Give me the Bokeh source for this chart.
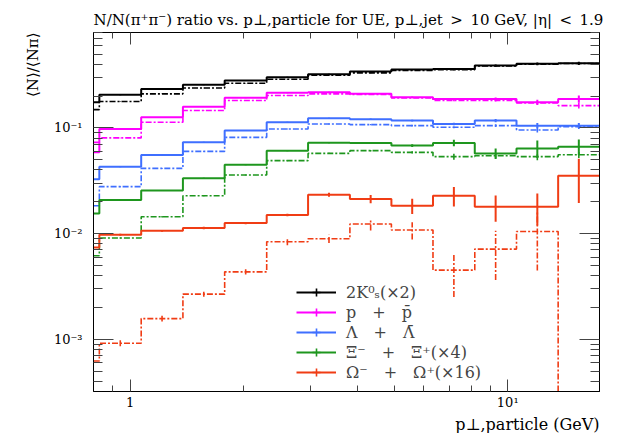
import math
from bokeh.plotting import figure
from bokeh.models import (LogAxis, FixedTicker, Legend, LegendItem, Title,
                          ColumnDataSource)
from bokeh.embed import file_html
from bokeh.resources import INLINE

# ---------------- data ----------------
edges = [0.643, 0.829, 1.07, 1.38, 1.78, 2.30, 2.96, 3.82, 4.92, 6.34, 8.18, 10.55, 13.6, 17.5]

k0_data = [0.175, 0.2055, 0.234, 0.256, 0.281, 0.302, 0.322, 0.342, 0.357, 0.362, 0.390, 0.404, 0.409]
k0_data_err = [0.0, 0.002, 0.002, 0.002, 0.002, 0.003, 0.003, 0.003, 0.004, 0.005, 0.008, 0.012, 0.015]
k0_mc = [0.149, 0.178, 0.210, 0.239, 0.265, 0.289, 0.315, 0.332, 0.350, 0.355, 0.386, 0.400, 0.407]
k0_mc_err = [0.0, 0.001, 0.001, 0.001, 0.001, 0.002, 0.002, 0.002, 0.002, 0.003, 0.004, 0.005, 0.006]

p_data = [0.0587, 0.0978, 0.126, 0.159, 0.1925, 0.215, 0.218, 0.210, 0.195, 0.188, 0.188, 0.175, 0.188]
p_data_err = [0.0, 0.001, 0.001, 0.001, 0.0015, 0.002, 0.002, 0.002, 0.003, 0.004, 0.006, 0.010, 0.015]
p_mc = [0.0730, 0.0804, 0.113, 0.146, 0.1815, 0.2024, 0.210, 0.2068, 0.1925, 0.1815, 0.1815, 0.1726, 0.1627]
p_mc_err = [0.0, 0.0005, 0.0008, 0.001, 0.001, 0.0015, 0.002, 0.002, 0.002, 0.003, 0.004, 0.006, 0.010]

lam_data = [0.0326, 0.0430, 0.0555, 0.0730, 0.0943, 0.113, 0.1233, 0.1207, 0.1173, 0.109, 0.1173, 0.1051, 0.1051]
lam_data_err = [0.0, 0.0005, 0.0006, 0.0008, 0.001, 0.0012, 0.0015, 0.002, 0.002, 0.003, 0.004, 0.006, 0.006]
lam_mc = [0.01834, 0.0278, 0.0414, 0.060, 0.0814, 0.0978, 0.109, 0.1075, 0.1051, 0.1013, 0.1051, 0.0957, 0.1029]
lam_mc_err = [0.0, 0.0003, 0.0004, 0.0005, 0.0007, 0.001, 0.0012, 0.0015, 0.002, 0.002, 0.003, 0.005, 0.005]

xi_data = [0.0155, 0.0208, 0.0256, 0.0333, 0.0449, 0.0609, 0.0725, 0.0721, 0.0680, 0.0721, 0.0574, 0.0640, 0.0665]
xi_data_err = [0.0, 0.0003, 0.0003, 0.0004, 0.0005, 0.0008, 0.001, 0.0015, 0.002, 0.005, 0.0066, 0.012, 0.011]
xi_mc = [0.00616, 0.00907, 0.01443, 0.0228, 0.0358, 0.049, 0.0574, 0.0609, 0.0587, 0.0535, 0.0546, 0.0535, 0.0558]
xi_mc_err = [0.0, 0.0001, 0.0002, 0.0003, 0.0004, 0.0006, 0.0008, 0.001, 0.0015, 0.0035, 0.003, 0.004, 0.004]

om_data = [0.00738, 0.00974, 0.01063, 0.01127, 0.01258, 0.01498, 0.0233, 0.02123, 0.01834, 0.0228, 0.01795, 0.01795, 0.0353]
om_data_err = [0.0, 0.0002, 0.0002, 0.0003, 0.0003, 0.0004, 0.001, 0.0019, 0.003, 0.0048, 0.005, 0.006, 0.0158]
om_mc = [0.000623, 0.000916, 0.001568, 0.00267, 0.00434, 0.00836, 0.00893, 0.0123, 0.0108, 0.00451, 0.00713, 0.01047, 0.0]
om_mc_err = [0.0, 0.00006, 0.0001, 0.00015, 0.00025, 0.0006, 0.0008, 0.0016, 0.002, 0.002, 0.0035, 0.006, 0.0]

labels = ["2K⁰ₛ(×2)", "p\u2003+\u2003p̄", "Λ\u2003+\u2003Λ̄",
          "Ξ⁻\u2003+\u2003Ξ⁺(×4)", "Ω⁻\u2003+\u2003Ω⁺(×16)"]
colors = ["#000000", "#ff00ff", "#3f6fff", "#1e961e", "#f03c14"]

title_text = "N/N(π⁺π⁻) ratio vs. p⊥,particle for UE, p⊥,jet\u2002>\u200210 GeV, |η|\u2002<\u20021.9"
x_title = "p⊥,particle (GeV)"
y_title = "⟨N⟩/⟨Nπ⟩"

x_major = [1, 10]
x_minor = [0.8, 0.9, 2, 3, 4, 5, 6, 7, 8, 9, 20]
y_major = [0.001, 0.01, 0.1]
y_minor = [3e-4, 4e-4, 5e-4, 6e-4, 7e-4, 8e-4, 9e-4,
           2e-3, 3e-3, 4e-3, 5e-3, 6e-3, 7e-3, 8e-3, 9e-3,
           2e-2, 3e-2, 4e-2, 5e-2, 6e-2, 7e-2, 8e-2, 9e-2,
           0.2, 0.3, 0.4, 0.5, 0.6, 0.7, 0.8, 0.9]

series = [
    (k0_data, k0_data_err, k0_mc, k0_mc_err),
    (p_data, p_data_err, p_mc, p_mc_err),
    (lam_data, lam_data_err, lam_mc, lam_mc_err),
    (xi_data, xi_data_err, xi_mc, xi_mc_err),
    (om_data, om_data_err, om_mc, om_mc_err),
]

XMIN, XMAX = 0.8, 17.5
YMIN, YMAX = 3.2e-4, 0.8
FONT = "DejaVu Serif"

p = figure(x_axis_type="log", y_axis_type="log",
           x_range=(XMIN, XMAX), y_range=(YMIN, YMAX),
           frame_width=506, frame_height=359, title=None,
           min_border_left=93, min_border_right=10,
           min_border_top=32, min_border_bottom=40,
           output_backend="svg", toolbar_location=None)
p.xgrid.visible = False
p.ygrid.visible = False
p.outline_line_color = "black"
p.outline_line_width = 1
p.background_fill_color = "white"
p.border_fill_color = "white"

def style_axis(ax, major_in, minor_in, labels_on, overrides=None, standoff=5):
    ax.major_tick_in = major_in
    ax.major_tick_out = 0
    ax.minor_tick_in = minor_in
    ax.minor_tick_out = 0
    ax.axis_line_color = "black"
    ax.major_tick_line_color = "#444444"
    ax.minor_tick_line_color = "#444444"
    ax.major_label_text_font = FONT
    ax.major_label_text_font_size = "13px" if labels_on else "0px"
    ax.major_label_standoff = standoff if labels_on else 0
    ax.major_label_text_color = "black"
    if overrides is not None:
        ax.major_label_overrides = overrides

p.xaxis.ticker = FixedTicker(ticks=x_major, minor_ticks=x_minor)
p.yaxis.ticker = FixedTicker(ticks=y_major, minor_ticks=y_minor)
style_axis(p.xaxis[0], 12, 6, True, {1: "1", 10: "10¹"}, 3)
style_axis(p.yaxis[0], 20, 9, True, {0.001: "10⁻³", 0.01: "10⁻²", 0.1: "10⁻¹"}, 11)

top = LogAxis(ticker=FixedTicker(ticks=x_major, minor_ticks=x_minor))
style_axis(top, 12, 6, False, {1: "", 10: ""})
p.add_layout(top, "above")
right = LogAxis(ticker=FixedTicker(ticks=y_major, minor_ticks=y_minor))
style_axis(right, 20, 9, False, {0.001: "", 0.01: "", 0.1: ""})
p.add_layout(right, "right")

centers = [math.sqrt(edges[i] * edges[i + 1]) for i in range(len(edges) - 1)]
DASH = "6 2 2 2"
floor = YMIN / 10.0

legend_items = []
for (d, de, m, me), col, lab in zip(series, colors, labels):
    mv = [v if v > 0 else floor for v in m]
    p.step(x=edges, y=mv + [mv[-1]], mode="after", line_color=col,
           line_width=1.6, line_dash=DASH)
    mi = [i for i in range(len(m)) if me[i] > 0 and m[i] > 0]
    p.segment(x0=[centers[i] for i in mi], y0=[m[i] - me[i] for i in mi],
              x1=[centers[i] for i in mi], y1=[m[i] + me[i] for i in mi],
              line_color=col, line_width=1.6, line_dash=DASH)
    r = p.step(x=edges, y=d + [d[-1]], mode="after", line_color=col, line_width=2)
    di = [i for i in range(len(d)) if de[i] > 0]
    p.segment(x0=[centers[i] for i in di], y0=[d[i] - de[i] for i in di],
              x1=[centers[i] for i in di], y1=[d[i] + de[i] for i in di],
              line_color=col, line_width=2)
    # error-bar cross of the first (partial, off-range) bin; serves as legend swatch
    src = ColumnDataSource(dict(x=[centers[0]], y=[d[0]]))
    cr = p.scatter(x="x", y="y", source=src, marker="cross", size=12,
                   line_color=col, line_width=1.6)
    legend_items.append(LegendItem(label=lab, renderers=[r, cr]))

legend = Legend(items=legend_items, location=(203, 9), glyph_width=40, glyph_height=20,
                spacing=0, padding=0, margin=0, label_standoff=10,
                border_line_alpha=0, background_fill_alpha=0,
                label_text_font=FONT, label_text_font_size="16px",
                label_height=20)
p.add_layout(legend)

p.add_layout(Title(text=title_text, align="left", text_font=FONT, text_font_size="15px",
                   text_font_style="normal", text_color="black", standoff=7), "above")
p.add_layout(Title(text=x_title, align="right", text_font=FONT, text_font_size="16px",
                   text_font_style="normal", text_color="black", standoff=0), "below")
p.add_layout(Title(text=y_title, align="right", text_font=FONT, text_font_size="15px",
                   text_font_style="normal", text_color="black", standoff=16,
                   vertical_align="middle"), "left")

open("out.html", "w").write(file_html(p, INLINE))
